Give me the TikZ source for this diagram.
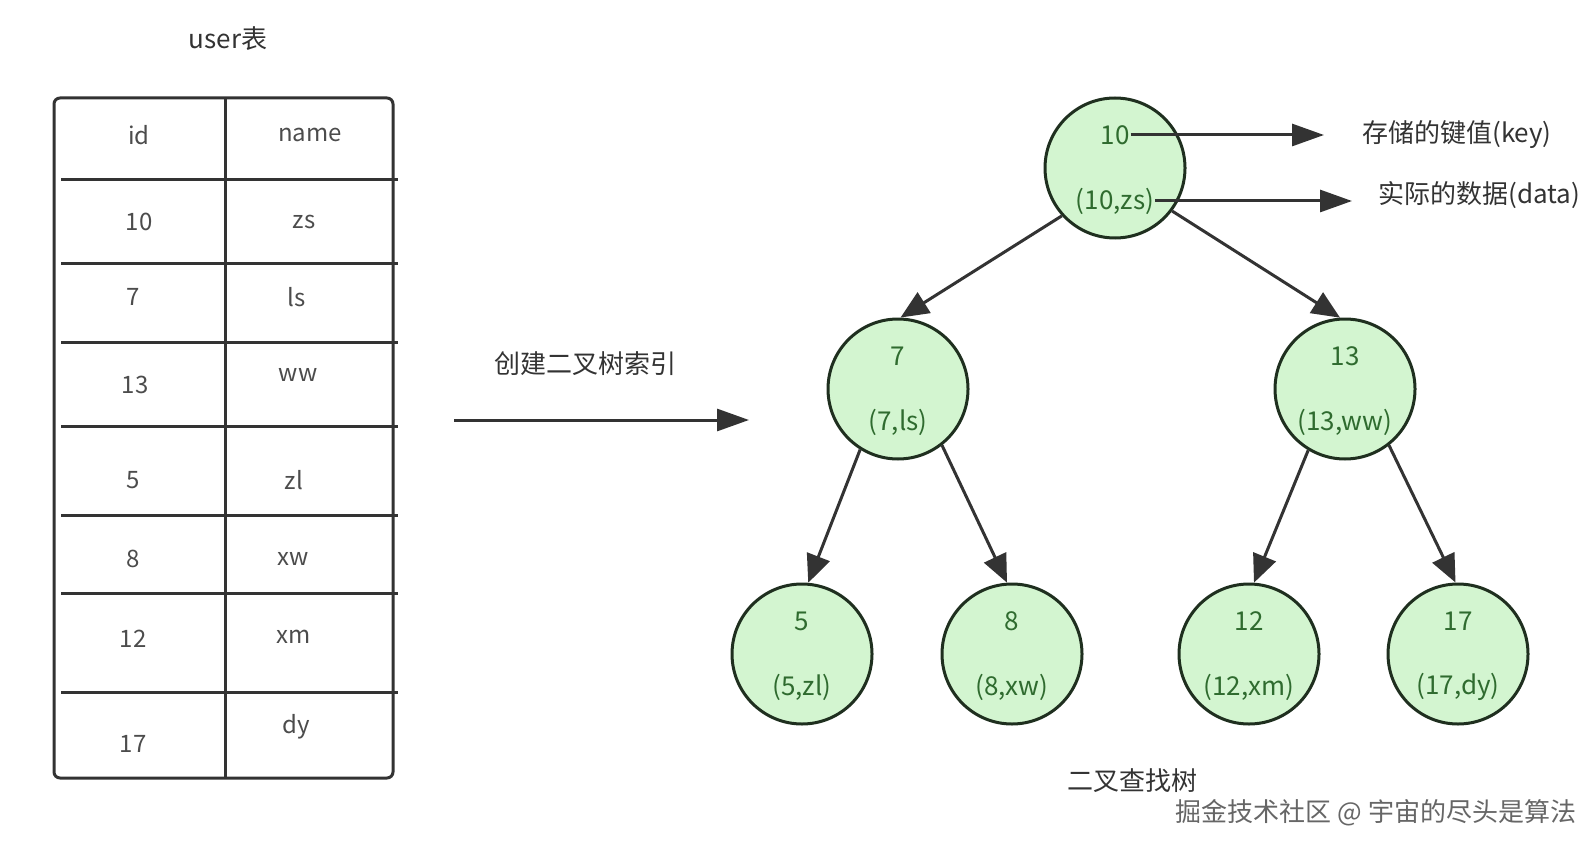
\documentclass[tikz,border=0pt]{standalone}
\usepackage{fontspec}
\setmainfont{Noto Sans CJK SC}
\usetikzlibrary{arrows.meta}
\definecolor{nodefill}{HTML}{D3F5D0}
\definecolor{nodeline}{HTML}{1F2F1F}
\definecolor{nodetext}{HTML}{2F6B2F}
\definecolor{ink}{HTML}{333333}
\newcommand{\treenode}[5]{%
  \node[tn] (#1) at (#2,#3) {};
  \node[kt] (#1k) at ([yshift=33pt]#1.center) {#4};
  \node[kt] (#1d) at ([yshift=-33pt]#1.center) {#5};
}
\begin{document}
\begin{tikzpicture}[x=1pt,y=-1pt,
  lbl/.style={font=\fontsize{26}{30}\selectfont, text=ink, inner sep=0pt},
  cell/.style={font=\fontsize{24}{28}\selectfont, text=black!70, inner sep=0pt},
  tn/.style={circle, draw=nodeline, line width=3pt, fill=nodefill, minimum size=140pt, inner sep=0pt},
  kt/.style={font=\fontsize{26}{30}\selectfont, text=nodetext, inner sep=1pt},
  tbl/.style={draw=ink, line width=3pt},
  arr/.style={draw=ink, line width=3pt, -{Triangle[length=28pt,width=24pt]}},
  karr/.style={draw=ink, line width=3pt, -{Triangle[length=32pt,width=22pt]}}
]
\useasboundingbox (0,0) rectangle (1594,850);

% title
\node[lbl] (title) at (228,39) {user表};

% table
\draw[tbl, rounded corners=6pt] (54,98) rectangle (393,778);
\draw[tbl] (225,98) -- (225,778);
\foreach \yy in {180,263,342,426,515,593,692} {
  \draw[tbl] (61,\yy) -- (398,\yy);
}
\node[cell] (hid) at (139,135) {id};
\node[cell] (hname) at (310,135) {name};
\node[cell] (r1a) at (139,222) {10};
\node[cell] (r1b) at (304,222) {zs};
\node[cell] (r2a) at (133,297) {7};
\node[cell] (r2b) at (297,297) {ls};
\node[cell] (r3a) at (135,385) {13};
\node[cell] (r3b) at (298,375) {ww};
\node[cell] (r4a) at (133,480) {5};
\node[cell] (r4b) at (294,480) {zl};
\node[cell] (r5a) at (133,559) {8};
\node[cell] (r5b) at (293,559) {xw};
\node[cell] (r6a) at (133,639) {12};
\node[cell] (r6b) at (294,637) {xm};
\node[cell] (r7a) at (133,744) {17};
\node[cell] (r7b) at (296,727) {dy};

% main arrow
\coordinate (ma) at (454,420);
\coordinate (mb) at (749,420);
\draw[karr] (ma) -- (mb);
\node[lbl] (mlbl) at (585,364) {创建二叉树索引};

% tree nodes
\treenode{n10}{1115}{168}{10}{(10,zs)}
\treenode{n7}{898}{389}{7}{(7,ls)}
\treenode{n13}{1345}{389}{13}{(13,ww)}
\treenode{n5}{802}{654}{5}{(5,zl)}
\treenode{n8}{1012}{654}{8}{(8,xw)}
\treenode{n12}{1249}{654}{12}{(12,xm)}
\treenode{n17}{1458}{654}{17}{(17,dy)}

% edges
\draw[arr] (n10.222) -- (n7.88);
\draw[arr] (n10.323) -- (n13.94);
\draw[arr] (n7.238) -- (n5.85);
\draw[arr] (n7.308) -- (n8.94);
\draw[arr] (n13.239) -- (n12.86);
\draw[arr] (n13.308) -- (n17.92);

% annotations
\node[lbl, anchor=west] (keylbl) at (1362,135) {存储的键值(key)};
\node[lbl, anchor=west] (datalbl) at (1378,195) {实际的数据(data)};
\draw[karr, shorten >=38pt] (n10k.east) -- (keylbl.west);
\draw[karr] (n10d.east) -- ([xshift=-26pt]datalbl.west |- n10d.east);

% caption
\node[lbl] (cap) at (1132,781) {二叉查找树};
\node[lbl, text=black!60] (wm) at (1376,813) {掘金技术社区 @ 宇宙的尽头是算法};
\end{tikzpicture}
\end{document}
